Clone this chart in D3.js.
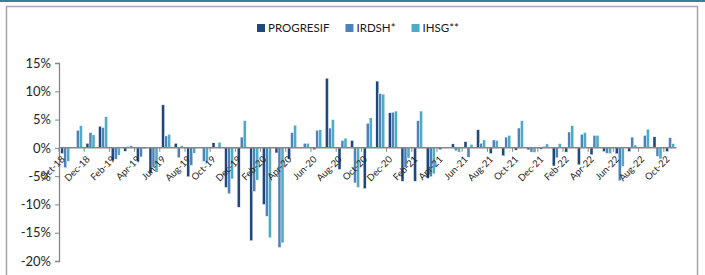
<!DOCTYPE html>
<html>
<head>
<meta charset="utf-8">
<script src="https://cdn.jsdelivr.net/npm/d3@7"></script>
<style>
  body { margin: 0; background: #fff; }
  svg { display: block; font-family: Lato, "Open Sans", sans-serif; }
</style>
</head>
<body>
<svg id="chart" width="705" height="275"></svg>
<script>
const months = ['Oct-18', 'Nov-18', 'Dec-18', 'Jan-19', 'Feb-19', 'Mar-19', 'Apr-19', 'May-19', 'Jun-19',
  'Jul-19', 'Aug-19', 'Sep-19', 'Oct-19', 'Nov-19', 'Dec-19', 'Jan-20', 'Feb-20', 'Mar-20', 'Apr-20',
  'May-20', 'Jun-20', 'Jul-20', 'Aug-20', 'Sep-20', 'Oct-20', 'Nov-20', 'Dec-20', 'Jan-21', 'Feb-21',
  'Mar-21', 'Apr-21', 'May-21', 'Jun-21', 'Jul-21', 'Aug-21', 'Sep-21', 'Oct-21', 'Nov-21', 'Dec-21',
  'Jan-22', 'Feb-22', 'Mar-22', 'Apr-22', 'May-22', 'Jun-22', 'Jul-22', 'Aug-22', 'Sep-22', 'Oct-22'];

const progresif = [-1.0, 0, 0.8, 3.8, -2.3, -0.6, -2.4, -4.5, 7.6, 0.8, -5.1, 0.1, 0.9, -7.0, -10.5,
  -16.4, -10.0, -0.9, -2.0, 0, -0.3, 12.3, -3.8, 1.3, -7.2, 11.8, 6.2, -5.9, -5.9, -5.4, -0.3, 0.7,
  1.1, 3.2, -1.0, -1.4, -0.4, -0.35, -0.25, -3.2, -0.75, -3.0, -1.2, -0.65, -1.05, -0.65, 0, 1.95, -0.65];
const irdsh = [-3.5, 3.1, 2.7, 3.6, -2.0, 0.25, -1.6, -3.5, 2.1, -1.75, -3.1, -2.4, 0, -8.1, 1.9,
  -7.7, -12.1, -17.6, 2.7, 0.8, 3.1, 3.5, 1.3, -6.2, 4.35, 9.6, 6.3, -3.5, 4.8, -5.1, 0.1, -0.5,
  -1.65, 0.8, 1.4, 1.9, 3.5, -0.75, 0.25, -1.75, 2.8, 2.4, 2.2, -0.95, -5.8, 1.9, 2.2, -1.5, 1.8];
const ihsg = [-2.4, 3.9, 2.3, 5.5, -1.3, 0.4, -0.2, -4.3, 2.4, 0.4, -0.95, -2.5, 1.0, -5.5, 4.8,
  -5.7, -15.9, -16.8, 4.0, 0.8, 3.2, 5.0, 1.7, -7.0, 5.3, 9.5, 6.5, -1.8, 6.5, -4.6, 0.1, -0.75,
  0.6, 1.4, 1.3, 2.2, 4.8, -0.8, 0.7, 0.75, 3.9, 2.7, 2.2, -1.0, -3.3, 0.5, 3.3, -1.95, 0.75];

const seriesNames = ['PROGRESIF', 'IRDSH*', 'IHSG**'];
const seriesColors = ['#1f497d', '#4f81bd', '#4bacc6'];
const yTicks = [-20, -15, -10, -5, 0, 5, 10, 15];

const series = [progresif, irdsh, ihsg].map((values, k) => ({
  name: seriesNames[k], color: seriesColors[k], values
}));

const svg = d3.select('#chart');

// frame like the source slide
svg.append('rect').attr('x', 0).attr('y', 0).attr('width', 705).attr('height', 2).attr('fill', '#31849b');
svg.append('path')
  .attr('d', 'M6.5,275V6.5H697.5V275')
  .attr('fill', 'none').attr('stroke', '#a6a6a6').attr('stroke-width', 1.5);

const x = d3.scaleBand().domain(months).range([59, 676.4]);
const x1 = d3.scaleBand().domain(seriesNames).range([0, x.bandwidth()]).paddingOuter(0.6);
const y = d3.scaleLinear().domain([-20, 15]).range([261, 63]);

// y axis
const yAxis = svg.append('g').attr('transform', 'translate(59,0)')
  .call(d3.axisLeft(y).tickValues(yTicks).tickFormat(d => d + '%').tickSize(4).tickPadding(4));
yAxis.select('.domain').attr('stroke', '#868686').attr('stroke-width', 1.3);
yAxis.selectAll('.tick line').attr('stroke', '#868686');
yAxis.selectAll('.tick text').attr('fill', '#262626').style('font-size', '13px')
  .style('font-family', 'Lato, sans-serif');

// bars
const groups = svg.append('g').selectAll('g.month')
  .data(months)
  .join('g').attr('class', 'month')
  .attr('transform', d => `translate(${x(d)},0)`);

groups.selectAll('rect')
  .data((m, i) => series.map(s => ({ name: s.name, color: s.color, v: s.values[i] })))
  .join('rect')
  .attr('x', d => x1(d.name))
  .attr('width', x1.bandwidth())
  .attr('y', d => y(Math.max(0, d.v)))
  .attr('height', d => Math.abs(y(d.v) - y(0)))
  .attr('fill', d => d.color)
  .attr('stroke', '#ffffff').attr('stroke-width', 0.4);

// x axis on the zero line
const xAxis = svg.append('g').attr('transform', `translate(0,${y(0)})`);
xAxis.append('line')
  .attr('x1', 59).attr('x2', 676.4)
  .attr('stroke', '#868686').attr('stroke-width', 1.5);
const labelled = months.filter((m, i) => i % 2 === 0);
xAxis.selectAll('line.tk')
  .data(labelled)
  .join('line').attr('class', 'tk')
  .attr('x1', d => x(d)).attr('x2', d => x(d))
  .attr('y1', 0).attr('y2', 4)
  .attr('stroke', '#868686');
xAxis.selectAll('text')
  .data(labelled)
  .join('text')
  .attr('transform', d => `translate(${x(d) + x.bandwidth() / 2},${12}) rotate(-45)`)
  .attr('text-anchor', 'end')
  .attr('fill', '#262626')
  .style('font-size', '9.5px')
  .text(d => d);

// legend
const legend = svg.append('g').attr('transform', 'translate(257,28)');
let lx = 0;
series.forEach(s => {
  const g = legend.append('g').attr('transform', `translate(${lx},0)`);
  g.append('rect').attr('x', 0).attr('y', -4).attr('width', 8).attr('height', 8).attr('fill', s.color);
  const t = g.append('text').attr('x', 11).attr('y', 4).attr('fill', '#1a1a1a')
    .style('font-size', '11.5px').text(s.name);
  lx += 11 + t.node().getComputedTextLength() + 16;
});
</script>
</body>
</html>
